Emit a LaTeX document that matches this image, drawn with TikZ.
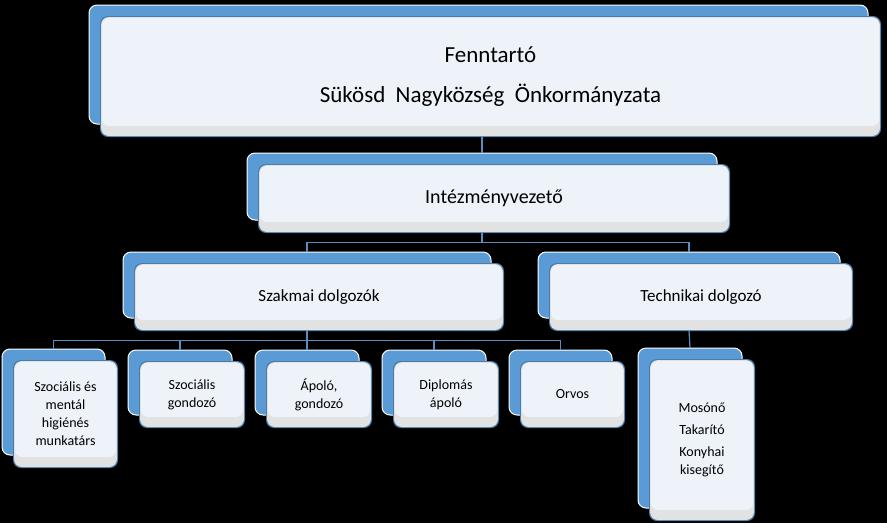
\documentclass[tikz,border=0pt]{standalone}
\usepackage{fontspec}
\setmainfont{Carlito}
\definecolor{backc}{HTML}{5B9BD5}
\definecolor{frontc}{HTML}{EEF3FA}
\definecolor{bandc}{HTML}{E2E2E2}
\definecolor{linec}{HTML}{5B8EC0}
\tikzset{conn/.style={draw=linec,line width=1.2pt}}
\newcommand\orgbox[7]{%
 \fill[backc,rounded corners=8] (#2,#3) rectangle (#4,#5);
 \draw[white,line width=1pt,rounded corners=8] (#2,#3) rectangle (#4,#5);
 \fill[backc!80!black,rounded corners=8] ({#2+11},{#3+11}) rectangle ({#4+13},{#5+13});
 \fill[bandc,rounded corners=8] ({#2+12},{#3+12}) rectangle ({#4+12},{#5+12});
 \fill[frontc,rounded corners=7] ({#2+13},{#3+13}) rectangle ({#4+11},{#5+2});
 \node[minimum width={(#4-#2)*1pt},minimum height={(#5-#3)*1pt},inner sep=0,align=center,font=#7]
   (#1) at ({(#2+#4)/2+12},{(#3+#5)/2+12}) {#6};
}
\begin{document}
\begin{tikzpicture}[x=1pt,y=-1pt]
\fill[black] (0,0) rectangle (887,523);
\useasboundingbox (0,0) rectangle (887,523);
\orgbox{top}{89}{5}{868}{124}{Fenntartó\\[14pt]Sükösd\ \ Nagyközség\ \ Önkormányzata}{\fontsize{23}{26}\selectfont}
\orgbox{intz}{247}{153}{717}{220}{Intézményvezető}{\fontsize{20}{24}\selectfont}
\orgbox{szak}{123}{252}{491}{318}{Szakmai dolgozók}{\fontsize{17}{20}\selectfont}
\orgbox{tech}{538}{252}{840}{318}{Technikai dolgozó}{\fontsize{17}{20}\selectfont}
\orgbox{c1}{2}{349}{105}{455}{Szociális és\\mentál\\higiénés\\munkatárs}{\fontsize{14}{18}\selectfont}
\orgbox{c2}{128}{350}{232}{415}{Szociális\\gondozó}{\fontsize{14}{18}\selectfont}
\orgbox{c3}{255}{350}{359}{415}{Ápoló,\\gondozó}{\fontsize{14}{18}\selectfont}
\orgbox{c4}{382}{350}{486}{415}{Diplomás\\ápoló}{\fontsize{14}{18}\selectfont}
\orgbox{c5}{509}{350}{612}{415}{Orvos}{\fontsize{14}{18}\selectfont}
\orgbox{c6}{638}{348}{742}{508}{Mosónő\\[4pt]Takarító\\[4pt]Konyhai\\kisegítő}{\fontsize{14}{18}\selectfont}
\draw[conn] ([xshift=-12pt]intz.north |- top.south) -- ([xshift=-12pt,yshift=12pt]intz.north);
\draw[conn] ([xshift=-12pt]intz.south) -- ++(0,10) -| ([xshift=-12pt,yshift=12pt]szak.north);
\draw[conn] ([xshift=-12pt]intz.south) -- ++(0,10) -| ([xshift=-12pt,yshift=12pt]tech.north);
\foreach \c in {c1,c2,c3,c4,c5}
  \draw[conn] ([xshift=-12pt]szak.south) -- ++(0,10) -| ([xshift=-12pt,yshift=12pt]\c.north);
\draw[conn] ([xshift=-12pt]tech.south) -- ([xshift=-12pt,yshift=12pt]c6.north);
\end{tikzpicture}
\end{document}
